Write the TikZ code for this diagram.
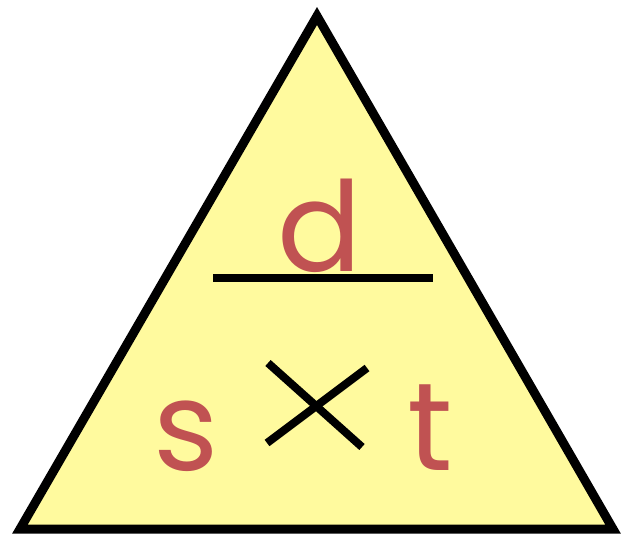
\documentclass[tikz,border=0pt]{standalone}
\usepackage{fontspec}
\setmainfont{Poppins}
\definecolor{triyellow}{RGB}{255,250,158}
\definecolor{letterred}{RGB}{192,82,82}
\tikzset{
  tri/.style={draw=black, fill=triyellow, line width=9pt, line join=miter},
  bar/.style={draw=black, line width=8pt},
  letter/.style={text=letterred, font=\fontsize{125}{125}\selectfont, anchor=base, inner sep=0pt}
}
\begin{document}
\begin{tikzpicture}[x=1pt,y=-1pt]
\useasboundingbox (0,0) rectangle (629,537);
\coordinate (apex) at (317,16);
\coordinate (bl) at (20,529);
\coordinate (br) at (613,529);
\draw[tri] (apex) -- (br) -- (bl) -- cycle;
\coordinate (barL) at (213,278);
\coordinate (barR) at (433,278);
\draw[bar] (barL) -- (barR);
\coordinate (x1) at (268,363);
\coordinate (x2) at (362,447);
\coordinate (x3) at (367,368);
\coordinate (x4) at (267,443);
\draw[bar] (x1) -- (x2);
\draw[bar] (x3) -- (x4);
\node[letter] (d) at (320,272) {d};
\node[letter] (s) at (186,470) {s};
\node[letter] (t) at (430,470) {t};
\end{tikzpicture}
\end{document}
